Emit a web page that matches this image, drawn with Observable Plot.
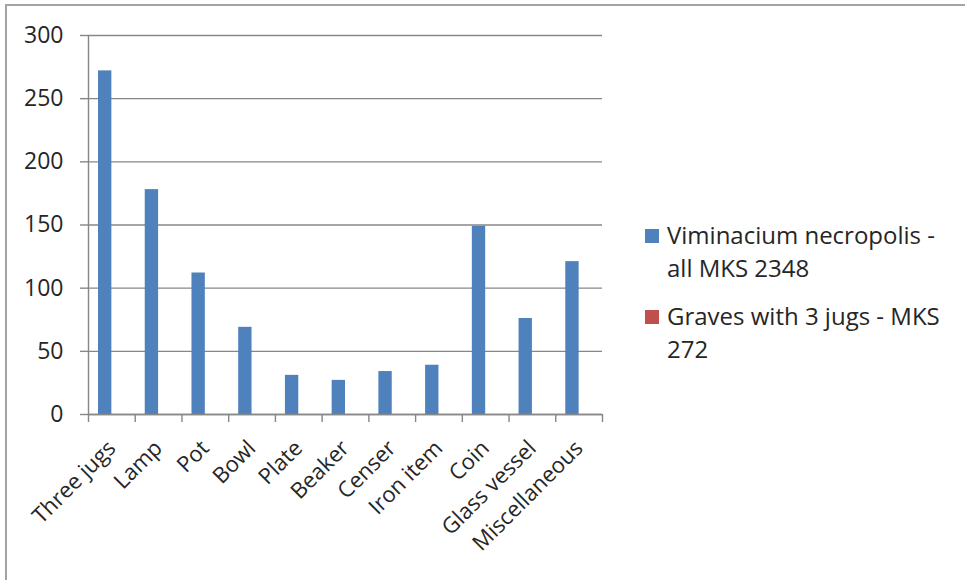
<!DOCTYPE html>
<html>
<head>
<meta charset="utf-8">
<script src="https://cdn.jsdelivr.net/npm/d3@7"></script>
<script src="https://cdn.jsdelivr.net/npm/@observablehq/plot@0.6"></script>
<style>
  html, body { margin: 0; padding: 0; background: #fff; }
  #wrap { position: relative; width: 965px; height: 580px; overflow: hidden; font-family: "Open Sans", sans-serif; }
  #frame { position: absolute; left: 5px; top: 4px; width: 980px; height: 600px; border-left: 2px solid #a3a3a3; border-top: 2px solid #a3a3a3; }
  #chart { position: absolute; left: 0; top: 0; }
  #legend { position: absolute; left: 645px; top: 218px; width: 305px; font-size: 24px; line-height: 33px; color: #262626; }
  .item { position: relative; padding-left: 22px; margin-bottom: 15px; }
  .sw { position: absolute; left: 0; top: 11px; width: 14px; height: 14px; }
</style>
</head>
<body>
<div id="wrap">
  <div id="frame"></div>
  <div id="chart"></div>
  <div id="legend"></div>
</div>
<script>
const categories = ["Three jugs", "Lamp", "Pot", "Bowl", "Plate", "Beaker", "Censer", "Iron item", "Coin", "Glass vessel", "Miscellaneous"];
const viminacium = [272, 178, 112, 69, 31, 27, 34, 39, 149, 76, 121];
const graves3jugs = [0, 0, 0, 0, 0, 0, 0, 0, 0, 0, 0];
const seriesNames = ["Viminacium necropolis - all MKS 2348", "Graves with 3 jugs - MKS 272"];
const seriesColors = ["#4F81BD", "#C0504D"];
const yTicks = [0, 50, 100, 150, 200, 250, 300];

const seriesValues = [viminacium, graves3jugs];
const barW = 1 / 3.5; // two bars + 150% gap
const rows = [];
categories.forEach((c, i) => {
  seriesValues.forEach((vals, s) => {
    rows.push({i, cat: c, s, series: seriesNames[s], value: vals[i]});
  });
});

const grid = "#878787";
const textColor = "#262626";

const chart = Plot.plot({
  width: 965,
  height: 580,
  marginLeft: 88,
  marginRight: 363,
  marginTop: 35,
  marginBottom: 166,
  x: {domain: [0, categories.length]},
  y: {domain: [0, 300]},
  style: {fontFamily: "Open Sans, sans-serif", fontSize: "22px", color: textColor, background: "transparent", overflow: "visible"},
  marks: [
    Plot.ruleY(yTicks, {stroke: grid, strokeWidth: 1.4}),
    Plot.axisY({ticks: yTicks, tickSize: 8, tickPadding: 17, stroke: grid, strokeWidth: 1.4, fill: textColor, fontSize: 23, label: null}),
    Plot.axisX({ticks: d3.range(categories.length + 1), tickSize: 8, tickFormat: () => "", stroke: grid, strokeWidth: 1.4, label: null}),
    Plot.ruleX([0], {stroke: grid, strokeWidth: 1.4}),
    Plot.rectY(rows, {
      x1: d => d.i + 0.5 + (d.s - 1) * barW,
      x2: d => d.i + 0.5 + d.s * barW,
      y1: () => 0,
      y2: d => d.value,
      fill: d => seriesColors[d.s]
    }),
    Plot.ruleY([0], {stroke: grid, strokeWidth: 1.4}),
    Plot.text(categories, {
      x: (d, i) => i + 0.5,
      y: () => 0,
      text: d => d,
      rotate: -45,
      textAnchor: "end",
      dx: 0,
      dy: 30,
      fontSize: 22,
      fill: textColor
    })
  ]
});
document.getElementById("chart").appendChild(chart);

const legend = document.getElementById("legend");
seriesNames.forEach((name, s) => {
  const item = document.createElement("div");
  item.className = "item";
  const sw = document.createElement("span");
  sw.className = "sw";
  sw.style.background = seriesColors[s];
  item.appendChild(sw);
  item.appendChild(document.createTextNode(name));
  legend.appendChild(item);
});
</script>
</body>
</html>
